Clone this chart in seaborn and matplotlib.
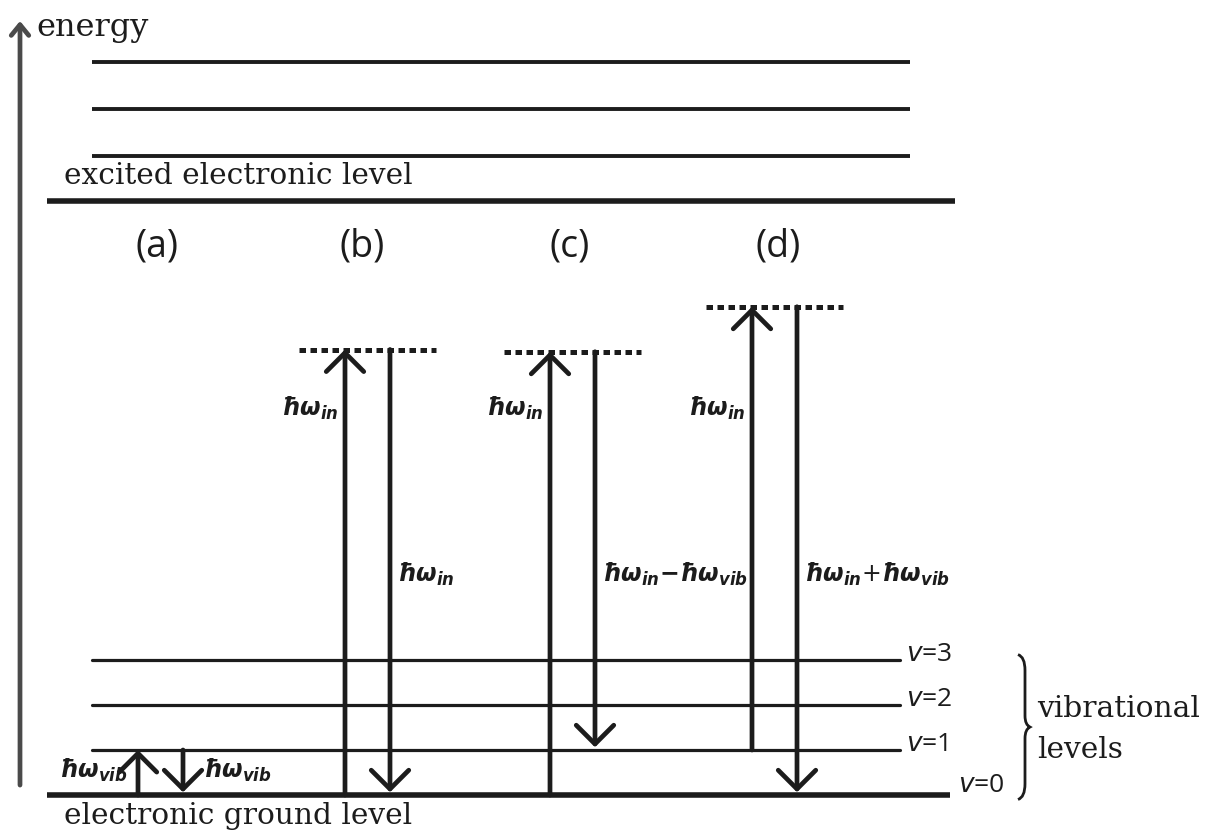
import numpy as np
import pandas as pd
import matplotlib
matplotlib.use("Agg")
import matplotlib.pyplot as plt
from matplotlib.path import Path
from matplotlib.patches import PathPatch
import seaborn as sns

# ---------------- data (energies in units of hbar*omega_vib) ----------------
ground_energy = 0.0
vib_energies = [1.0, 2.0, 3.0]                 # v=1, v=2, v=3
vib_labels = ["$v$=1", "$v$=2", "$v$=3"]
excited_energy = 13.2                           # excited electronic level
excited_vib_energies = [14.2, 15.25, 16.3]
panel_labels = ["(a)", "(b)", "(c)", "(d)"]
virtual_energies = [9.9, 9.85, 10.85]           # virtual levels of (b), (c), (d)
up_start = [0.0, 0.0, 0.0, 1.0]
up_end = [1.0, 9.9, 9.85, 10.85]
up_labels = [r"$\hbar\omega_{vib}$", r"$\hbar\omega_{in}$", r"$\hbar\omega_{in}$", r"$\hbar\omega_{in}$"]
down_start = [1.0, 9.9, 9.85, 10.85]
down_end = [0.0, 0.0, 1.0, 0.0]
down_labels = [r"$\hbar\omega_{vib}$", r"$\hbar\omega_{in}$",
               r"$\hbar\omega_{in}$$-$$\hbar\omega_{vib}$", r"$\hbar\omega_{in}$+$\hbar\omega_{vib}$"]

# ---------------- style ----------------
sns.set_theme(style="white")
plt.rcParams["mathtext.fontset"] = "custom"
plt.rcParams["mathtext.it"] = "DejaVu Sans:italic:bold"
plt.rcParams["mathtext.rm"] = "DejaVu Sans:bold"
plt.rcParams["mathtext.bf"] = "DejaVu Sans:bold"
INK = "#1c1c1c"
SERIF = "DejaVu Serif"

W, H = 1211, 833
fig = plt.figure(figsize=(W / 100, H / 100), dpi=100)
ax = fig.add_axes([0, 0, 1, 1])
scale = 45.0  # px per energy unit

# layout (x positions in px)
up_x = [138, 345, 550, 752]
down_x = [183, 390, 595, 797]
panel_x = [157, 362, 570, 778]

# ground vibrational levels via seaborn
vib_df = pd.DataFrame({
    "x": [92, 900] * len(vib_energies),
    "E": np.repeat(vib_energies, 2),
    "lvl": np.repeat(vib_labels, 2),
})
sns.lineplot(data=vib_df, x="x", y="E", units="lvl", estimator=None, color=INK,
             lw=2.3, ax=ax, legend=False)
ax.set_xlim(0, W)
ax.set_ylim(-(H - 795) / scale, 795 / scale)
ax.axis("off")

# energy axis
ax.annotate("", xy=(20, 17.2), xytext=(20, 0.22),
            arrowprops=dict(arrowstyle="->,head_length=0.55,head_width=0.45",
                            lw=3.4, color="#4a4a4a", shrinkA=0, shrinkB=0,
                            mutation_scale=14))
ax.text(36, 17.05, "energy", family=SERIF, fontsize=23, color=INK, va="center", ha="left")

# excited levels
ax.hlines(excited_vib_energies, 92, 910, color=INK, lw=2.8)
ax.hlines(excited_energy, 47, 955, color=INK, lw=4.0)
ax.text(64, 13.75, "excited electronic level", family=SERIF, fontsize=21.3, color=INK,
        va="center", ha="left")

# panel labels
for x, lab in zip(panel_x, panel_labels):
    ax.text(x, 12.2, lab, family="Open Sans", fontsize=27, color=INK, ha="center", va="center")

for e, lab in zip(vib_energies, vib_labels):
    ax.text(906, e + 0.13, lab, family="Open Sans", fontsize=19, color=INK,
            va="center", ha="left", math_fontfamily="dejavusans")
ax.text(958, 0.22, "$v$=0", family="Open Sans", fontsize=19, color=INK,
        va="center", ha="left", math_fontfamily="dejavusans")

# ground level
ax.hlines(ground_energy, 47, 950, color=INK, lw=4.0)
ax.text(64, -0.46, "electronic ground level", family=SERIF, fontsize=21.3, color=INK,
        va="center", ha="left")

# virtual levels
for i, e in enumerate(virtual_energies):
    xu, xd = up_x[i + 1], down_x[i + 1]
    ax.hlines(e, xu - 46, xd + 46, color=INK, lw=3.6, linestyles=(0, (1.3, 0.9)))

# arrows
arrow_kw = dict(arrowstyle="->,head_length=0.9,head_width=0.9", lw=3.4, color=INK,
                shrinkA=0, shrinkB=0, mutation_scale=15)
for i in range(4):
    ax.annotate("", xy=(up_x[i], up_end[i]), xytext=(up_x[i], up_start[i]), arrowprops=arrow_kw)
    ax.annotate("", xy=(down_x[i], down_end[i] + 0.06), xytext=(down_x[i], down_start[i]),
                arrowprops=arrow_kw)

# labels of the transitions
ax.text(up_x[0] - 10, 0.55, up_labels[0], fontsize=17, color=INK, ha="right", va="center")
ax.text(down_x[0] + 20, 0.55, down_labels[0], fontsize=17, color=INK, ha="left", va="center")
for i in range(1, 4):
    ax.text(up_x[i] - 6, 8.6, up_labels[i], fontsize=17, color=INK, ha="right", va="center")
    ax.text(down_x[i] + 7, 4.9, down_labels[i], fontsize=17, color=INK, ha="left", va="center")

# curly brace for vibrational levels
xb, tip = 1018, 1030
top, bot = 3.12, -0.1
mid = (top + bot) / 2
verts = [(xb, top), (xb + 7, top - 0.05), (xb + 7, top - 0.35),
         (xb + 7, mid + 0.25),
         (xb + 7, mid + 0.05), (tip, mid),
         (xb + 7, mid - 0.05), (xb + 7, mid - 0.25),
         (xb + 7, bot + 0.35),
         (xb + 7, bot + 0.05), (xb, bot)]
codes = [Path.MOVETO, Path.CURVE3, Path.CURVE3, Path.LINETO,
         Path.CURVE3, Path.CURVE3, Path.CURVE3, Path.CURVE3,
         Path.LINETO, Path.CURVE3, Path.CURVE3]
ax.add_patch(PathPatch(Path(verts, codes), fill=False, lw=2.0, color=INK))
ax.text(1037, mid + 0.4, "vibrational", family=SERIF, fontsize=21.3, color=INK, va="center", ha="left")
ax.text(1037, mid - 0.5, "levels", family=SERIF, fontsize=21.3, color=INK, va="center", ha="left")

fig.savefig("out.png", dpi=100)
